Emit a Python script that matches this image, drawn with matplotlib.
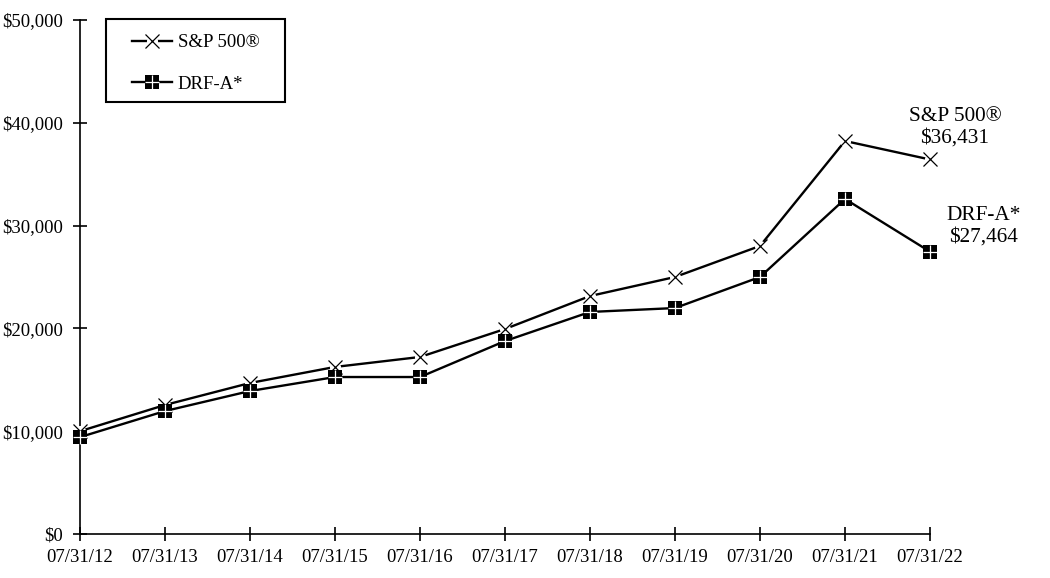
import matplotlib
matplotlib.use("Agg")
import matplotlib.pyplot as plt
from matplotlib.ticker import FuncFormatter, MultipleLocator
from matplotlib.lines import Line2D
from matplotlib.patches import Rectangle
from matplotlib.legend_handler import HandlerTuple

plt.rcParams['font.family'] = ['Liberation Serif', 'DejaVu Serif']

dates = ["07/31/12", "07/31/13", "07/31/14", "07/31/15", "07/31/16", "07/31/17",
         "07/31/18", "07/31/19", "07/31/20", "07/31/21", "07/31/22"]
sp500 = [10000, 12550, 14690, 16250, 17220, 19940, 23150, 25000, 28020, 38230, 36431]
drfa = [9425, 11960, 13910, 15270, 15270, 18770, 21600, 21980, 25000, 32590, 27464]
sp_label = "S&P 500®"
drf_label = "DRF-A*"
sp_end = "$36,431"
drf_end = "$27,464"

W, H = 1050, 578
fig = plt.figure(figsize=(W / 100, H / 100), dpi=100)
ax = fig.add_axes([80 / W, 1 - 534 / H, 850 / W, 514 / H])

x = list(range(len(dates)))
LW = 1.7
xkw = dict(marker='x', ms=9.5, mew=0.9, color='black', linestyle='none')
skw = dict(marker='s', ms=9.5, mew=0, color='black', linestyle='none')
pkw = dict(marker='+', ms=10, mew=0.9, color='white', linestyle='none')
okw = dict(marker='o', ms=8, mew=0, color='white', linestyle='none')

ax.plot(x, sp500, color='black', lw=LW, clip_on=False, zorder=3)
ax.plot(x, sp500, clip_on=False, zorder=4, **okw)
ax.plot(x, sp500, clip_on=False, zorder=5, **xkw)
ax.plot(x, drfa, color='black', lw=LW, clip_on=False, zorder=3)
ax.plot(x, drfa, clip_on=False, zorder=5, **skw)
ax.plot(x, drfa, clip_on=False, zorder=6, **pkw)

ax.set_xlim(0, 10)
ax.set_ylim(0, 50000)
ax.set_xticks(x)
ax.set_xticklabels(dates)
ax.yaxis.set_major_locator(MultipleLocator(10000))
ax.yaxis.set_major_formatter(FuncFormatter(lambda v, p: "${:,.0f}".format(v)))
for s in ['top', 'right']:
    ax.spines[s].set_visible(False)
for s in ['left', 'bottom']:
    ax.spines[s].set_linewidth(1.2)
ax.tick_params(direction='inout', length=10, width=1.2, labelsize=13.5)
ax.tick_params(axis='y', pad=7)
ax.tick_params(axis='x', pad=5.5)

fig.text(955 / W, 1 - 127 / H, sp_label + "\n" + sp_end,
         ha='center', va='center', fontsize=15.3, linespacing=1.15)
fig.text(984 / W, 1 - 226.5 / H, drf_label + "\n" + drf_end,
         ha='center', va='center', fontsize=15.3, linespacing=1.15)

h1 = (Line2D([], [], color='black', lw=LW),
      Line2D([], [], **okw), Line2D([], [], **xkw))
h2 = (Line2D([], [], color='black', lw=LW),
      Line2D([], [], **skw), Line2D([], [], **pkw))
leg = fig.legend([h1, h2], [sp_label, drf_label],
                 handler_map={tuple: HandlerTuple(ndivide=1)},
                 loc='upper left', bbox_to_anchor=(132 / W, 1 - 34 / H),
                 borderaxespad=0, borderpad=0, frameon=False,
                 fontsize=13.5, labelspacing=1.3,
                 handlelength=2.15, handletextpad=0.28)
fig.patches.append(Rectangle((106 / W, 1 - 102 / H), 179 / W, 83 / H,
                             transform=fig.transFigure, fill=False,
                             edgecolor='black', lw=1.5))

fig.savefig("out.png", dpi=100)
